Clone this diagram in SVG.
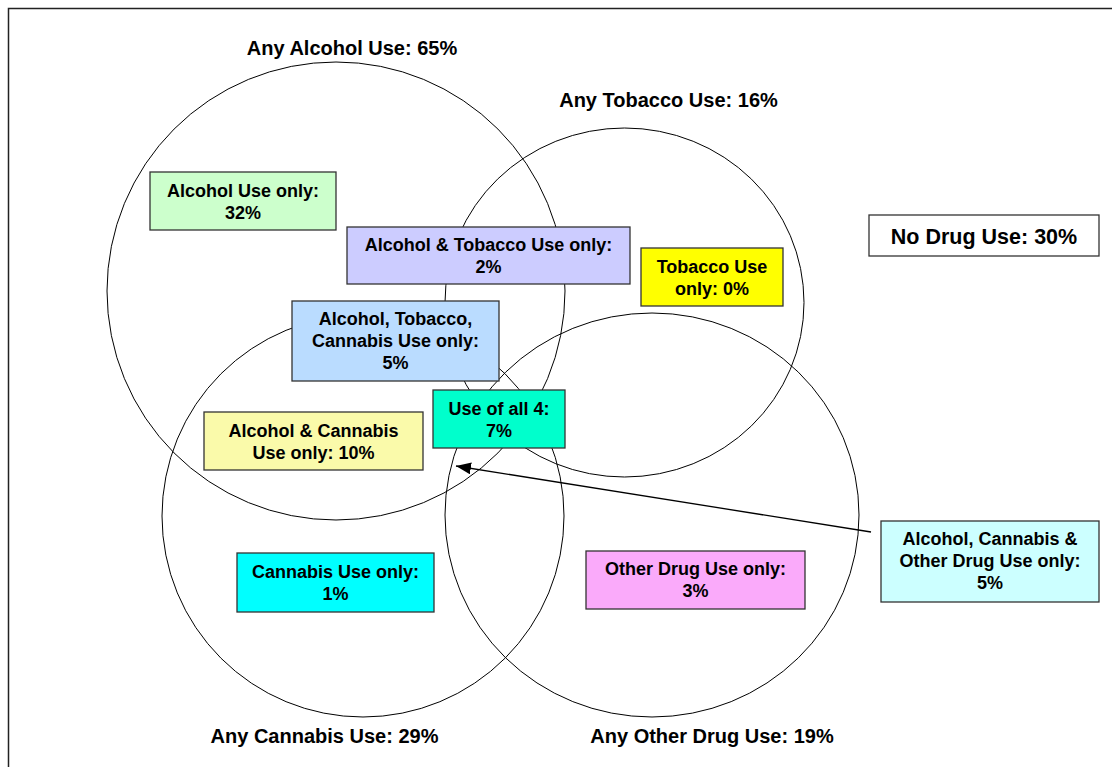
<svg xmlns="http://www.w3.org/2000/svg" width="1112" height="767" viewBox="0 0 1112 767">
<style>
text{font-family:"Liberation Sans",Arial,sans-serif;font-weight:bold;fill:#000;text-anchor:middle}
.lbl{font-size:20px}
.bx text{font-size:18px}
.bx rect{stroke:#333;stroke-width:1.3}
.ring{fill:none;stroke:#000;stroke-width:1}
</style>
<defs>
<marker id="ah" markerUnits="userSpaceOnUse" markerWidth="16" markerHeight="12" refX="15" refY="6" orient="auto">
<path d="M0,0 L15,6 L0,12 Z" fill="#000"/>
</marker>
</defs>
<rect x="0" y="0" width="1112" height="767" fill="#fff"/>
<rect x="8.5" y="8.5" width="1200" height="1000" fill="none" stroke="#222" stroke-width="1.5"/>
<g id="circles">
<circle id="c-alcohol" class="ring" cx="336" cy="291" r="229"/>
<ellipse id="c-tobacco" class="ring" cx="624.5" cy="302.5" rx="179.5" ry="174.5"/>
<circle id="c-cannabis" class="ring" cx="363" cy="516" r="201"/>
<ellipse id="c-other" class="ring" cx="652" cy="515" rx="207" ry="202"/>
</g>
<g id="labels">
<text class="lbl" x="352" y="55">Any Alcohol Use: 65%</text>
<text class="lbl" x="668.5" y="107">Any Tobacco Use: 16%</text>
<text class="lbl" x="324.5" y="743">Any Cannabis Use: 29%</text>
<text class="lbl" x="712" y="743">Any Other Drug Use: 19%</text>
</g>
<g id="connectors">
<line x1="871" y1="532" x2="456" y2="466" stroke="#000" stroke-width="1.3" marker-end="url(#ah)"/>
</g>
<g id="n-alcohol-only" class="bx">
<rect x="150" y="172" width="186" height="58" fill="#CCFFCC"/>
<text x="243" y="197">Alcohol Use only:</text>
<text x="243" y="219">32%</text>
</g>
<g id="n-alc-tob" class="bx">
<rect x="347" y="227" width="283" height="57" fill="#CCCCFF"/>
<text x="488.5" y="251">Alcohol &amp; Tobacco Use only:</text>
<text x="488.5" y="273">2%</text>
</g>
<g id="n-tobacco-only" class="bx">
<rect x="641" y="248" width="142" height="58" fill="#FFFF00"/>
<text x="712" y="273">Tobacco Use</text>
<text x="712" y="295">only: 0%</text>
</g>
<g id="n-none" class="bx">
<rect x="869" y="215" width="230" height="41" fill="#FFFFFF"/>
<text x="984" y="244" style="font-size:21.5px">No Drug Use: 30%</text>
</g>
<g id="n-alc-tob-can" class="bx">
<rect x="292" y="301" width="207" height="80" fill="#BADCFF"/>
<text x="395.5" y="325">Alcohol, Tobacco,</text>
<text x="395.5" y="347">Cannabis Use only:</text>
<text x="395.5" y="369">5%</text>
</g>
<g id="n-alc-can" class="bx">
<rect x="204" y="412" width="219" height="58" fill="#FAFAAA"/>
<text x="313.5" y="437">Alcohol &amp; Cannabis</text>
<text x="313.5" y="459">Use only: 10%</text>
</g>
<g id="n-all4" class="bx">
<rect x="433" y="390" width="132" height="58" fill="#00FFCC"/>
<text x="499" y="415">Use of all 4:</text>
<text x="499" y="437">7%</text>
</g>
<g id="n-cannabis-only" class="bx">
<rect x="237" y="553" width="197" height="59" fill="#00FFFF"/>
<text x="335.5" y="578">Cannabis Use only:</text>
<text x="335.5" y="600">1%</text>
</g>
<g id="n-other-only" class="bx">
<rect x="586" y="551" width="219" height="58" fill="#FAAAFA"/>
<text x="695.5" y="575">Other Drug Use only:</text>
<text x="695.5" y="597">3%</text>
</g>
<g id="n-alc-can-oth" class="bx">
<rect x="881" y="521" width="218" height="81" fill="#CCFFFF"/>
<text x="990" y="545">Alcohol, Cannabis &amp;</text>
<text x="990" y="567">Other Drug Use only:</text>
<text x="990" y="589">5%</text>
</g>
</svg>
